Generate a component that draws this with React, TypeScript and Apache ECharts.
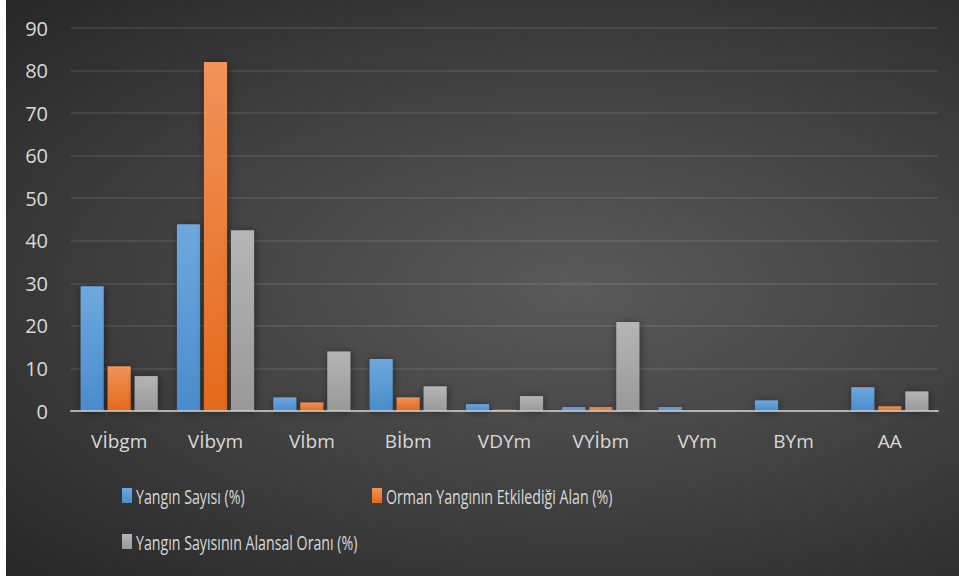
import React, { useEffect, useRef } from "react";
import * as echarts from "echarts";

const categories = ["Vİbgm", "Vİbym", "Vİbm", "Bİbm", "VDYm", "VYİbm", "VYm", "BYm", "AA"];
const seriesNames = [
  "Yangın Sayısı (%)",
  "Orman Yangının Etkilediği Alan (%)",
  "Yangın Sayısının Alansal Oranı (%)",
];
const yanginSayisi = [29.3, 43.9, 3.2, 12.2, 1.6, 0.9, 0.9, 2.5, 5.6];
const etkiledigiAlan = [10.5, 82.0, 2.0, 3.2, 0.3, 0.9, 0, 0, 1.1];
const alansalOran = [8.2, 42.5, 14.0, 5.8, 3.5, 20.9, 0, 0, 4.6];
const yMin = 0;
const yMax = 90;
const yStep = 10;

const barFill = (top: string, bottom: string) =>
  new echarts.graphic.LinearGradient(0, 0, 0, 1, [
    { offset: 0, color: top },
    { offset: 1, color: bottom },
  ]);

const labelColor = "#d9d9d9";
const labelFont = "'Open Sans', 'DejaVu Sans', sans-serif";

// legend entries laid out in two rows: [left, centerY]
const legendSlots: [number, number][] = [
  [116, 495.5],
  [366, 495.5],
  [116, 541.5],
];

export default function App() {
  const ref = useRef<HTMLDivElement>(null);

  useEffect(() => {
    if (!ref.current) return;
    const chart = echarts.init(ref.current, undefined, { renderer: "svg" });

    const fills = [
      barFill("#6ea8de", "#4a8ccc"),
      barFill("#f2925a", "#e36a1a"),
      barFill("#b5b5b5", "#999999"),
    ];
    const values = [yanginSayisi, etkiledigiAlan, alansalOran];

    // condensed legend: swatch + horizontally narrowed label
    const legendGraphics = seriesNames.map((name, i) => {
      const [lx, cy] = legendSlots[i];
      return {
        type: "group",
        children: [
          {
            type: "rect",
            shape: { x: lx, y: cy - 7.5, width: 10, height: 15 },
            style: { fill: fills[i] },
          },
          {
            type: "text",
            x: lx + 14,
            y: cy,
            scaleX: 0.71,
            style: {
              text: name,
              fill: labelColor,
              font: `20px ${labelFont}`,
              textAlign: "left",
              textVerticalAlign: "middle",
            },
          },
        ],
      };
    });

    chart.setOption({
      animation: false,
      backgroundColor: "transparent",
      graphic: legendGraphics,
      grid: { left: 65, right: 21, top: 28, bottom: 165, containLabel: false },
      xAxis: {
        type: "category",
        data: categories,
        z: 5,
        axisLine: { show: true, lineStyle: { color: "rgba(210,210,210,0.75)", width: 2 } },
        axisTick: { show: false },
        axisLabel: {
          color: labelColor,
          fontFamily: labelFont,
          fontSize: 19,
          margin: 20,
        },
        splitLine: { show: false },
      },
      yAxis: {
        type: "value",
        min: yMin,
        max: yMax,
        interval: yStep,
        axisLine: { show: false },
        axisTick: { show: false },
        axisLabel: {
          color: labelColor,
          fontFamily: labelFont,
          fontSize: 20,
          margin: 23,
        },
        splitLine: { lineStyle: { color: "rgba(255,255,255,0.11)", width: 1.5 } },
      },
      series: values.map((data, i) => ({
        name: seriesNames[i],
        type: "bar",
        data,
        barGap: "17%",
        barCategoryGap: "20%",
        itemStyle: {
          color: fills[i],
          shadowColor: "rgba(0,0,0,0.45)",
          shadowBlur: 8,
          shadowOffsetX: 1,
          shadowOffsetY: 1,
        },
        emphasis: { disabled: true },
      })),
    });

    return () => chart.dispose();
  }, []);

  return (
    <div
      ref={ref}
      style={{
        position: "absolute",
        left: 6,
        top: 0,
        width: 953,
        height: 576,
        background:
          "radial-gradient(farthest-corner at 60% 50%, #5a5a5a 0%, #444444 45%, #272727 100%)",
      }}
    />
  );
}
